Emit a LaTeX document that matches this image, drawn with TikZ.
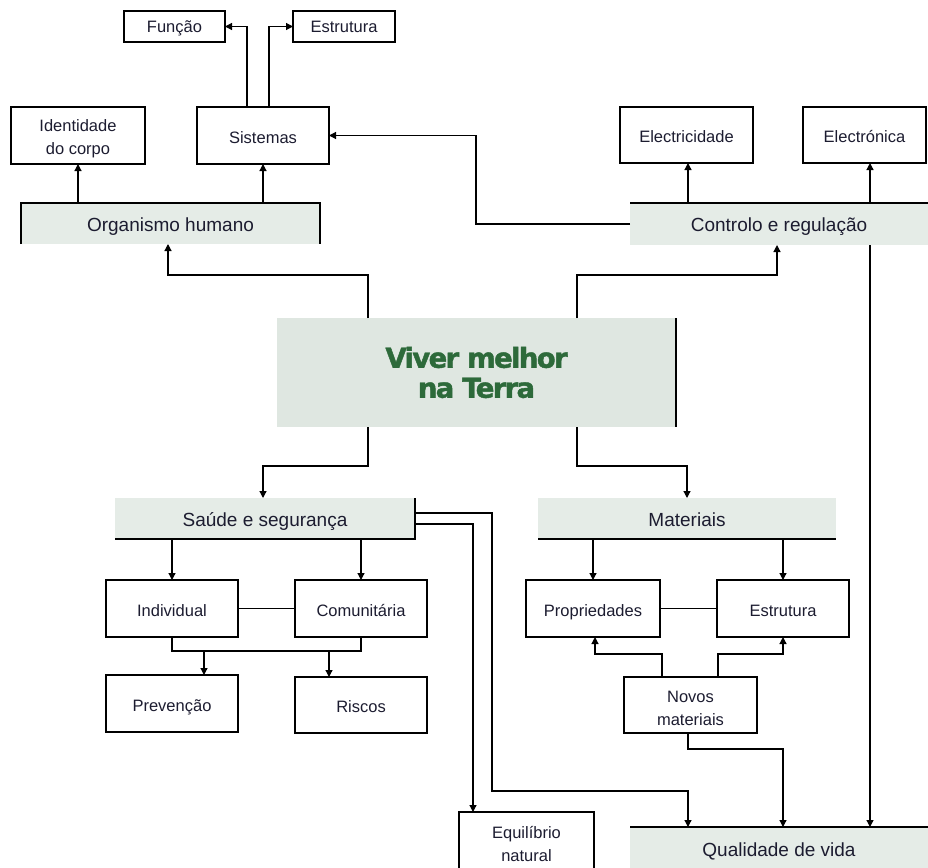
\documentclass[tikz,border=0pt]{standalone}
\usepackage{fontspec}
\setmainfont{Liberation Sans}
\newfontfamily\titlefont{DejaVu Sans}[LetterSpace=-6, FakeBold=1.5]
\usetikzlibrary{positioning, arrows.meta, calc}

\definecolor{bandfill}{HTML}{E5ECE7}
\definecolor{corefill}{HTML}{DFE7E1}
\definecolor{coregreen}{HTML}{2D6A3A}
\definecolor{inkblue}{HTML}{1C1C30}

% extra room above a two-line label
\newcommand{\topstrut}{\rule{0pt}{18pt}}

\begin{document}
\begin{tikzpicture}[
  x=1pt, y=-1pt,
  line width=1.2pt,
  box/.style={draw, rectangle, align=center, inner sep=0pt, outer sep=0pt,
    minimum width=132pt, minimum height=57pt, text=inkblue,
    font=\fontsize{16.5}{23}\selectfont},
  oneline/.style={text height=16.5pt, text depth=1.5pt},
  smallbox/.style={box, minimum width=101pt, minimum height=31pt,
    text height=15pt, text depth=2pt},
  band/.style={fill=bandfill, rectangle, inner sep=0pt, outer sep=0pt,
    minimum width=299pt, minimum height=41pt, text=inkblue,
    text height=17.5pt, text depth=2pt, font=\fontsize{19}{23}\selectfont},
  arr/.style={-{Triangle[length=7pt, width=7pt]}}
]
\useasboundingbox (0,0) rectangle (928,867);

% central theme
\node[fill=corefill, inner sep=0pt, outer sep=0pt, minimum width=399pt,
  minimum height=109pt, align=center, text=coregreen,
  font=\titlefont\bfseries\fontsize{27.5}{30}\selectfont] (viver) at (476.5,372.5)
  {Viver melhor\\na Terra};

% the four bands
\node[band] (organ) at (170.5,223.5) {Organismo humano};
\node[band, minimum width=298pt, minimum height=42pt] (contr) at (779,224) {Controlo e regulação};
\node[band, minimum width=300pt] (saude) at (265,518.5) {Saúde e segurança};
\node[band, minimum width=298pt] (mat) at (687,518.5) {Materiais};
\node[band, minimum width=298pt, minimum height=44pt] (qual) at (779,849) {Qualidade de vida};

% top boxes
\node[smallbox] (funcao) at (174.5,26.5) {Função};
\node[smallbox, minimum width=102pt] (estrtop) at (344,26.5) {Estrutura};
\node[box, minimum width=134pt] (ident) at (78,135.5) {\topstrut Identidade\\do corpo};
\node[box, oneline] (sist) at (263,135.5) {Sistemas};
\node[box, oneline, minimum width=133pt, minimum height=56pt] (elec) at (686.5,135) {Electricidade};
\node[box, oneline, minimum width=123pt, minimum height=56pt] (eltron) at (864.5,135) {Electrónica};

% bottom left boxes
\node[box, oneline] (indiv) at (172,608.5) {Individual};
\node[box, oneline] (comun) at (361,608.5) {Comunitária};
\node[box, oneline] (prev) at (172,703.5) {Prevenção};
\node[box, oneline, minimum height=56pt] (risc) at (361,705) {Riscos};

% bottom right boxes
\node[box, oneline, minimum width=134pt] (prop) at (593,608.5) {Propriedades};
\node[box, oneline] (estr) at (783,608.5) {Estrutura};
\node[box, minimum width=133pt, minimum height=56pt] (novos) at (690.5,705) {\topstrut Novos\\materiais};
\node[box, minimum width=135pt, minimum height=58pt] (equil) at (526.5,841) {\topstrut Equilíbrio\\natural};

% partial borders of the bands
\draw (organ.south west) -- (organ.north west) -- (organ.north east) -- (organ.south east);
\draw (contr.north west) -- (contr.north east);
\draw (viver.north east) -- (viver.south east);
\draw (saude.south west) -- (saude.south east) -- (saude.north east);
\draw (mat.south west) -- (mat.south east);
\draw (qual.north west) -- (qual.north east);

% from the centre
\draw[arr] ([xshift=-108.5]viver.north) -- ++(0,-43) -| ([xshift=-2.5]organ.south);
\draw[arr] ([xshift=100.5]viver.north) -- ++(0,-43) -| ([xshift=-2]contr.south);
\draw[arr] ([xshift=-108.5]viver.south) -- ++(0,39) -| ([xshift=-2]saude.north);
\draw[arr] ([xshift=100.5]viver.south) -- ++(0,39) -| (mat.north);

% organismo humano
\draw[arr] (ident.south |- organ.north) -- (ident.south);
\draw[arr] (sist.south |- organ.north) -- (sist.south);
\draw[arr] ([xshift=-16]sist.north) |- (funcao.east);
\draw[arr] ([xshift=6]sist.north) |- (estrtop.west);

% controlo e regulacao
\draw[arr] (contr.west) -- ++(-154,0) |- (sist.east);
\draw[arr] ([xshift=1.5]elec.south |- contr.north) -- ([xshift=1.5]elec.south);
\draw[arr] ([xshift=91]contr.north) -- ++(0,-40);
\draw[arr] ([xshift=91]contr.south) -- ([xshift=91]qual.north);

% saude e seguranca
\draw[arr] (indiv.north |- saude.south) -- (indiv.north);
\draw[arr] (comun.north |- saude.south) -- (comun.north);
\draw (indiv.east) -- (comun.west);
\coordinate (hs) at ($(indiv.south)+(0,14)$);
\coordinate (pa) at ($(prev.north)+(32,0)$);
\coordinate (ra) at ($(risc.north)+(-32,0)$);
\draw (indiv.south) -- (hs) -| (comun.south);
\draw[arr] (hs -| pa) -- (pa);
\draw[arr] (hs -| ra) -- (ra);
\draw[arr] ([yshift=-5.5]saude.east) -| ([xshift=-53.5]equil.north);
\coordinate (qa) at ($(qual.north)+(-91,0)$);
\draw[arr] ([yshift=5.5]saude.east) -- ++(77,0) |- ($(qa)+(0,-36)$) -- (qa);

% materiais
\draw[arr] (prop.north |- mat.south) -- (prop.north);
\draw[arr] (estr.north |- mat.south) -- (estr.north);
\draw (prop.east) -- (estr.west);
\draw[arr] ([xshift=-28.5]novos.north) -- ++(0,-23) -| ([xshift=2]prop.south);
\draw[arr] ([xshift=27.5]novos.north) -- ++(0,-23) -| (estr.south);
\draw[arr] ([xshift=-2.5]novos.south) -- ++(0,16) -| ([xshift=4]qual.north);

\end{tikzpicture}
\end{document}
